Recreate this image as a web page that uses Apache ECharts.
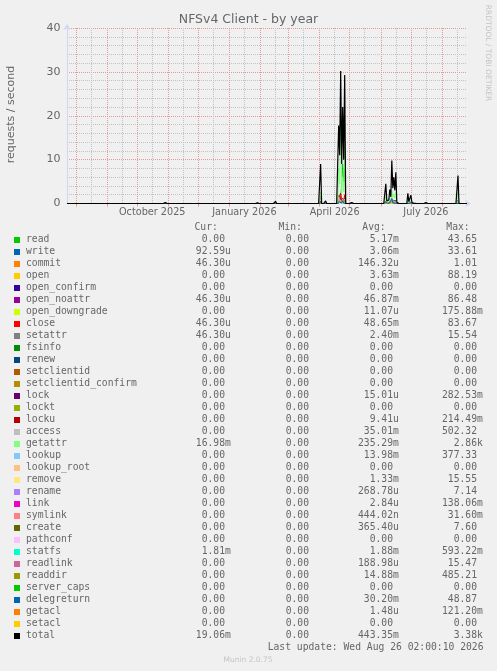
<!DOCTYPE html>
<html><head><meta charset="utf-8">
<script src="https://cdn.jsdelivr.net/npm/echarts@6/dist/echarts.min.js"></script>
<style>html,body{margin:0;padding:0;background:#f0f0f0;}#c{width:497px;height:671px;}</style>
</head><body><div id="c"></div>
<script>
// ---- time axis ----
const startYear = 2025, startMonth = 6, startDay = 23; // 2025-07-23
const dayCount = 400;
const xLabelDates = ['2025-10-16', '2026-01-16', '2026-04-16', '2026-07-16'];
const xLabelTexts = ['October 2025', 'January 2026', 'April 2026', 'July 2026'];
const yTicks = [0, 10, 20, 30, 40];

// ---- spike days (all other days are 0) ----
const spikeDates = ['2025-10-29','2026-01-29','2026-02-16','2026-04-02','2026-04-07',
  '2026-04-20','2026-04-21','2026-04-22','2026-04-23','2026-04-24','2026-04-25','2026-04-26',
  '2026-05-03','2026-06-06','2026-06-07','2026-06-08','2026-06-09','2026-06-10','2026-06-11',
  '2026-06-12','2026-06-13','2026-06-14','2026-06-15','2026-06-16','2026-06-17',
  '2026-06-28','2026-06-29','2026-07-01','2026-07-02','2026-07-05','2026-07-16','2026-08-17'];
const readVals       = [0,0,0,0.3,0.02, 1.2,2.0,1.0,4.5,9.0,5.0,8.0, 0,0.1,0,0,0.02,0.1,0.05, 0.3,0.1,0.2,0.1,0.2,0, 0.05,0,0.05,0,0,0,0.2];
const writeVals      = [0,0,0.02,0.6,0.02, 0.8,0.4,1.1,0.3,0.8,0.3,1.0, 0.01,0.5,0.1,0.06,0.12,0.35,0.3, 0.8,0.5,0.7,0.45,0.6,0.04, 0.4,0.06,0.35,0.04,0.04,0.02,0.6];
const commitVals     = [0,0,0,0.4,0, 0.5,0.2,0.6,0.1,0.4,0.1,0.5, 0,0.05,0,0,0,0.05,0, 0.15,0.05,0.1,0.05,0.1,0, 0.02,0,0.02,0,0,0,0.1];
const openVals       = [0,0,0.01,0.5,0.02, 0.9,0.4,0.8,0.2,0.6,0.2,0.7, 0,0.15,0.02,0.01,0.02,0.1,0.05, 0.3,0.1,0.2,0.1,0.2,0.01, 0.05,0.01,0.05,0.01,0.01,0,0.2];
const openNoattrVals = [0.02,0.01,0.04,1.1,0.05, 1.6,0.9,1.4,0.4,1.0,0.4,1.3, 0.02,0.4,0.05,0.03,0.06,0.3,0.1, 0.9,0.3,0.5,0.25,0.7,0.02, 0.2,0.03,0.15,0.02,0.02,0.02,0.6];
const closeVals      = [0.02,0.01,0.05,1.6,0.06, 1.8,1.0,2.4,0.5,1.2,0.5,2.0, 0.02,0.5,0.05,0.04,0.08,0.35,0.15, 1.1,0.35,0.6,0.3,0.8,0.03, 0.25,0.04,0.2,0.03,0.03,0.02,0.7];
const accessVals     = [0.02,0.02,0.05,0.9,0.06, 1.5,0.8,1.2,0.4,1.0,0.4,1.0, 0.02,0.4,0.05,0.03,0.06,0.3,0.1, 1.0,0.3,0.6,0.25,0.7,0.03, 0.2,0.03,0.15,0.03,0.03,0.02,0.6];
const getattrVals    = [0.12,0.09,0.28,2.6,0.33, 8.0,4.4,20.0,2.2,6.0,2.6,13.0, 0.11,1.6,0.25,0.18,0.35,1.2,0.6, 3.0,1.4,2.2,1.2,2.6,0.14, 0.8,0.18,0.65,0.14,0.14,0.1,2.4];
const lookupVals     = [0.01,0.01,0.02,0.3,0.02, 0.6,0.3,0.7,0.1,0.4,0.2,0.6, 0.01,0.2,0.03,0.02,0.03,0.15,0.05, 0.5,0.15,0.3,0.1,0.4,0.01, 0.1,0.02,0.1,0.01,0.01,0.01,0.3];
const readdirVals    = [0.01,0.01,0.02,0.2,0.01, 0.5,0.3,0.5,0.2,0.5,0.2,0.7, 0.01,0.2,0.02,0.01,0.03,0.1,0.05, 0.6,0.1,0.3,0.1,0.4,0.01, 0.08,0.01,0.08,0.01,0.01,0.01,0.3];
const delegVals      = [0,0,0.01,0.5,0.01, 0.4,0.3,0.5,0.1,0.6,0.1,0.5, 0,0.4,0.03,0.02,0.03,0.2,0.05, 1.15,0.15,0.3,0.1,0.4,0.01, 0.15,0.02,0.1,0.01,0.01,0,0.4];
const totalVals      = [0.2,0.15,0.5,9.0,0.6, 17.8,11.0,30.2,9.0,22.0,10.0,29.3, 0.2,4.5,0.6,0.4,0.8,3.2,1.5, 9.8,3.5,6.0,3.0,7.1,0.3, 2.3,0.4,1.9,0.3,0.3,0.2,6.4];

// ---- legend table ----
const legendNames = ['read','write','commit','open','open_confirm','open_noattr','open_downgrade','close','setattr','fsinfo','renew','setclientid','setclientid_confirm','lock','lockt','locku','access','getattr','lookup','lookup_root','remove','rename','link','symlink','create','pathconf','statfs','readlink','readdir','server_caps','delegreturn','getacl','setacl','total'];
const legendColors = ['#00cc00','#0066b3','#ff8000','#ffcc00','#330099','#990099','#ccff00','#ff0000','#808080','#008f00','#00487d','#b35a00','#b38f00','#6b006b','#8fb300','#b30000','#bebebe','#80ff80','#80c9ff','#ffc080','#ffe680','#aa80ff','#ee00cc','#ff8080','#666600','#ffbfff','#00ffcc','#cc6699','#999900','#00cc00','#0066b3','#ff8000','#ffcc00','#000000'];
const curVals = ['0.00','92.59u','46.30u','0.00','0.00','46.30u','0.00','46.30u','46.30u','0.00','0.00','0.00','0.00','0.00','0.00','0.00','0.00','16.98m','0.00','0.00','0.00','0.00','0.00','0.00','0.00','0.00','1.81m','0.00','0.00','0.00','0.00','0.00','0.00','19.06m'];
const minVals = legendNames.map(() => '0.00');
const avgVals = ['5.17m','3.06m','146.32u','3.63m','0.00','46.87m','11.07u','48.65m','2.40m','0.00','0.00','0.00','0.00','15.01u','0.00','9.41u','35.01m','235.29m','13.98m','0.00','1.33m','268.78u','2.84u','444.02n','365.40u','0.00','1.88m','188.98u','14.88m','0.00','30.20m','1.48u','0.00','443.35m'];
const maxVals = ['43.65','33.61','1.01','88.19','0.00','86.48','175.88m','83.67','15.54','0.00','0.00','0.00','0.00','282.53m','0.00','214.49m','502.32','2.86k','377.33','0.00','15.55','7.14','138.06m','31.60m','7.60','0.00','593.22m','15.47','485.21','0.00','48.87','121.20m','0.00','3.38k'];
const colHeaders = ['Cur:','Min:','Avg:','Max:'];
const lastUpdate = 'Last update: Wed Aug 26 02:00:10 2026';

// ---- build ----
const cats = [];
const t0 = Date.UTC(startYear, startMonth, startDay);
for (let i = 0; i < dayCount; i++) cats.push(new Date(t0 + i * 86400000).toISOString().slice(0, 10));
function full(vals) {
  const m = {};
  spikeDates.forEach((d, i) => { m[d] = vals[i]; });
  return cats.map(c => (m[c] !== undefined ? m[c] : 0));
}
const SANS = 'DejaVu Sans';
const MONO = '"DejaVu Sans Mono"';
const FONT_C = '#666666';
const MGRID = '#e49a9a';
const GRID = '#c2c2c2';
const AXIS = '#cfd6f8';

const plotted = [
  ['read', '#00cc00', readVals], ['write', '#0066b3', writeVals], ['commit', '#ff8000', commitVals],
  ['open', '#ffcc00', openVals], ['open_noattr', '#990099', openNoattrVals], ['close', '#ff0000', closeVals],
  ['access', '#bebebe', accessVals], ['getattr', '#80ff80', getattrVals], ['lookup', '#80c9ff', lookupVals],
  ['readdir', '#999900', readdirVals], ['delegreturn', '#0066b3', delegVals], ['total', '#000000', totalVals]
];
const series = plotted.map(([n, c, v]) => ({
  name: n, type: 'line', data: full(v), symbol: 'none', showSymbol: false, z: 3,
  lineStyle: { width: n === 'total' ? 1.2 : 1, color: c }, itemStyle: { color: c }, animation: false, silent: true
}));

const g = [];
g.push({ type: 'text', x: 248.5, y: 19.5, style: { text: 'NFSv4 Client - by year', font: '12.5px "DejaVu Sans"', fill: FONT_C, align: 'center', verticalAlign: 'middle' } });
g.push({ type: 'text', x: 11, y: 114.5, rotation: Math.PI / 2, style: { text: 'requests / second', font: '11px "DejaVu Sans"', fill: FONT_C, align: 'center', verticalAlign: 'middle' } });
g.push({ type: 'text', x: 488, y: 53, rotation: -Math.PI / 2, style: { text: 'RRDTOOL / TOBI OETIKER', font: '7.5px "DejaVu Sans"', fill: '#c4c4c4', align: 'center', verticalAlign: 'middle' } });

const headerY = 227.3, row0 = 239.7, rowH = 12;
const headerX = [194.5, 278.5, 362.3, 446.3];
const numEnd = [225, 309, 393, 477];
const LFONT = '9.7px ' + MONO;
colHeaders.forEach((h, i) => g.push({ type: 'text', x: headerX[i], y: headerY, style: { text: h, font: LFONT, fill: FONT_C, align: 'left', verticalAlign: 'middle' } }));
const cols = [curVals, minVals, avgVals, maxVals];
legendNames.forEach((name, r) => {
  const y = row0 + r * rowH;
  g.push({ type: 'rect', shape: { x: 14, y: Math.round(y) - 3, width: 6, height: 6 }, style: { fill: legendColors[r] } });
  g.push({ type: 'text', x: 26, y: y, style: { text: name, font: LFONT, fill: FONT_C, align: 'left', verticalAlign: 'middle' } });
  cols.forEach((col, ci) => {
    const mt = /^([\d.]+)([a-zA-Z]?)$/.exec(col[r]);
    g.push({ type: 'text', x: numEnd[ci], y: y, style: { text: mt[1], font: LFONT, fill: FONT_C, align: 'right', verticalAlign: 'middle' } });
    if (mt[2]) g.push({ type: 'text', x: numEnd[ci], y: y, style: { text: mt[2], font: LFONT, fill: FONT_C, align: 'left', verticalAlign: 'middle' } });
  });
});
g.push({ type: 'text', x: 483.5, y: 647.3, style: { text: lastUpdate, font: LFONT, fill: FONT_C, align: 'right', verticalAlign: 'middle' } });
g.push({ type: 'text', x: 248, y: 660, style: { text: 'Munin 2.0.75', font: '7.5px "DejaVu Sans"', fill: '#c4c4c4', align: 'center', verticalAlign: 'middle' } });

const chart = echarts.init(document.getElementById('c'), null, { renderer: 'canvas' });
chart.setOption({
  backgroundColor: '#f0f0f0',
  animation: false,
  grid: { left: 67, right: 30, top: 28, height: 175.5, containLabel: false },
  xAxis: {
    type: 'category', data: cats, boundaryGap: false,
    axisLine: { show: true, lineStyle: { color: AXIS, width: 1 }, symbol: ['none', 'arrow'], symbolSize: [6, 6], symbolOffset: [0, 4] },
    axisTick: { show: true, interval: (i, v) => v.endsWith('-01'), length: 3, lineStyle: { color: MGRID } },
    axisLabel: { interval: (i, v) => xLabelDates.indexOf(v) >= 0, formatter: v => { const k = xLabelDates.indexOf(v); return k >= 0 ? xLabelTexts[k] : ''; }, fontSize: 9.7, fontFamily: SANS, color: FONT_C, margin: 4 },
    // month starts (major, red) alternate with mid-month lines (minor, grey)
    splitLine: { show: true, interval: (i, v) => v.endsWith('-01') || v.endsWith('-16'), lineStyle: { color: [MGRID, GRID], type: [1, 1] } }
  },
  yAxis: {
    type: 'value', min: yTicks[0], max: yTicks[yTicks.length - 1], interval: yTicks[1] - yTicks[0],
    axisLine: { show: true, lineStyle: { color: AXIS, width: 1 }, symbol: ['none', 'arrow'], symbolSize: [6, 6], symbolOffset: [0, 4] },
    axisTick: { show: false },
    axisLabel: { fontSize: 11, fontFamily: SANS, color: FONT_C, margin: 6.5 },
    splitLine: { show: true, lineStyle: { color: MGRID, type: [1, 1] } },
    minorTick: { show: false, splitNumber: 5 },
    minorSplitLine: { show: true, lineStyle: { color: GRID, type: [1, 1] } }
  },
  series: series,
  graphic: g
});
</script></body></html>
